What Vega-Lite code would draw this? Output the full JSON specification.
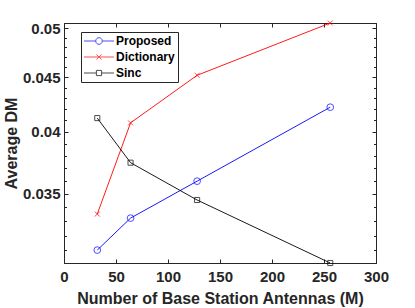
{
  "$schema": "https://vega.github.io/schema/vega-lite/v6.json",
  "width": 312,
  "height": 240,
  "autosize": {"type": "none"},
  "padding": {"left": 64, "top": 23, "right": 39, "bottom": 45},
  "background": "white",
  "config": {
    "view": {"stroke": "#262626", "strokeWidth": 1},
    "font": "Liberation Sans",
    "axis": {
      "domainColor": "#262626",
      "tickColor": "#262626",
      "labelColor": "#262626",
      "titleColor": "#262626",
      "labelFont": "Liberation Sans",
      "titleFont": "Liberation Sans",
      "labelFontSize": 15,
      "labelFontWeight": "bold",
      "titleFontSize": 16,
      "titleFontWeight": "bold",
      "labelFlush": false,
      "grid": false
    }
  },
  "data": {
    "values": [
      {"series": "Proposed", "M": 32, "dm": 0.03102},
      {"series": "Proposed", "M": 64, "dm": 0.03323},
      {"series": "Proposed", "M": 128, "dm": 0.03598},
      {"series": "Proposed", "M": 256, "dm": 0.04219},
      {"series": "Dictionary", "M": 32, "dm": 0.03352},
      {"series": "Dictionary", "M": 64, "dm": 0.04079},
      {"series": "Dictionary", "M": 128, "dm": 0.04519},
      {"series": "Dictionary", "M": 256, "dm": 0.05057},
      {"series": "Sinc", "M": 32, "dm": 0.04121},
      {"series": "Sinc", "M": 64, "dm": 0.03744},
      {"series": "Sinc", "M": 128, "dm": 0.03455},
      {"series": "Sinc", "M": 256, "dm": 0.03017}
    ]
  },
  "layer": [
    {
      "mark": {"type": "line", "strokeWidth": 0.9},
      "encoding": {
        "x": {
          "field": "M", "type": "quantitative",
          "scale": {"domain": [0, 300], "nice": false, "zero": false},
          "axis": {
            "orient": "bottom",
            "values": [0, 50, 100, 150, 200, 250, 300],
            "tickSize": -4,
            "labelPadding": 10,
            "title": "Number of Base Station Antennas (M)",
            "titlePadding": 6
          }
        },
        "y": {
          "field": "dm", "type": "quantitative",
          "scale": {"type": "log", "domain": [0.03017, 0.05057], "nice": false, "zero": false},
          "axis": {
            "orient": "left",
            "values": [0.031, 0.032, 0.033, 0.034, 0.035, 0.036, 0.037, 0.038, 0.039, 0.04, 0.041, 0.042, 0.043, 0.044, 0.045, 0.046, 0.047, 0.048, 0.049, 0.05],
            "labelExpr": "abs(datum.value*200 - round(datum.value*200)) < 0.01 ? format(datum.value, '.3~f') : ''",
            "tickSize": {"condition": {"test": "abs(datum.value*200 - round(datum.value*200)) < 0.01", "value": -4}, "value": -2.5},
            "labelPadding": 8,
            "title": "Average DM",
            "titlePadding": 3
          }
        },
        "color": {
          "field": "series", "type": "nominal",
          "scale": {"domain": ["Proposed", "Dictionary", "Sinc"], "range": ["#0000ff", "#ff0000", "#000000"]},
          "legend": {
            "title": null,
            "orient": "none",
            "legendX": 17,
            "legendY": 9,
            "padding": 3,
            "strokeColor": "#262626",
            "fillColor": "white",
            "labelFont": "Liberation Sans",
            "labelFontSize": 12,
            "labelFontWeight": "bold",
            "labelColor": "#000000",
            "symbolSize": 36,
            "symbolStrokeWidth": 1,
            "symbolFillColor": "transparent",
            "symbolOffset": 9,
            "labelOffset": 11,
            "rowPadding": 4
          }
        }
      }
    },
    {
      "mark": {"type": "point", "filled": false, "size": 0, "strokeWidth": 1},
      "encoding": {
        "x": {"field": "M", "type": "quantitative", "axis": null},
        "y": {"field": "dm", "type": "quantitative", "axis": null},
        "color": {"field": "series", "type": "nominal"},
        "shape": {
          "field": "series", "type": "nominal",
          "scale": {"domain": ["Proposed", "Dictionary", "Sinc"], "range": [
            "M-5,0H-1.1M1.1,0H5M-1.1,0A1.1,1.1,0,1,0,1.1,0A1.1,1.1,0,1,0,-1.1,0",
            "M-5,0H5M-0.83,-0.83L0.83,0.83M-0.83,0.83L0.83,-0.83",
            "M-5,0H-0.87M0.87,0H5M-0.87,-0.87H0.87V0.87H-0.87Z"
          ]}
        }
      }
    },
    {
      "transform": [{"filter": "datum.series === 'Proposed'"}],
      "mark": {"type": "point", "filled": false, "shape": "circle", "size": 45, "strokeWidth": 1},
      "encoding": {
        "x": {"field": "M", "type": "quantitative", "axis": null},
        "y": {"field": "dm", "type": "quantitative", "axis": null},
        "color": {"field": "series", "type": "nominal"}
      }
    },
    {
      "transform": [{"filter": "datum.series === 'Dictionary'"}],
      "mark": {"type": "point", "filled": false, "shape": "M-1,-1L1,1M-1,1L1,-1", "size": 25, "strokeWidth": 1},
      "encoding": {
        "x": {"field": "M", "type": "quantitative", "axis": null},
        "y": {"field": "dm", "type": "quantitative", "axis": null},
        "color": {"field": "series", "type": "nominal"}
      }
    },
    {
      "transform": [{"filter": "datum.series === 'Sinc'"}],
      "mark": {"type": "point", "filled": false, "shape": "square", "size": 26, "strokeWidth": 1},
      "encoding": {
        "x": {"field": "M", "type": "quantitative", "axis": null},
        "y": {"field": "dm", "type": "quantitative", "axis": null},
        "color": {"field": "series", "type": "nominal"}
      }
    },
    {
      "mark": {"type": "point", "opacity": 0},
      "encoding": {
        "x": {
          "field": "M", "type": "quantitative",
          "axis": {"orient": "top", "values": [0, 50, 100, 150, 200, 250, 300], "tickSize": -4, "labels": false, "title": null}
        },
        "y": {
          "field": "dm", "type": "quantitative",
          "axis": {
            "orient": "right",
            "values": [0.031, 0.032, 0.033, 0.034, 0.035, 0.036, 0.037, 0.038, 0.039, 0.04, 0.041, 0.042, 0.043, 0.044, 0.045, 0.046, 0.047, 0.048, 0.049, 0.05],
            "tickSize": {"condition": {"test": "abs(datum.value*200 - round(datum.value*200)) < 0.01", "value": -4}, "value": -2.5},
            "labels": false,
            "title": null
          }
        }
      }
    }
  ],
  "resolve": {"axis": {"x": "independent", "y": "independent"}}
}
